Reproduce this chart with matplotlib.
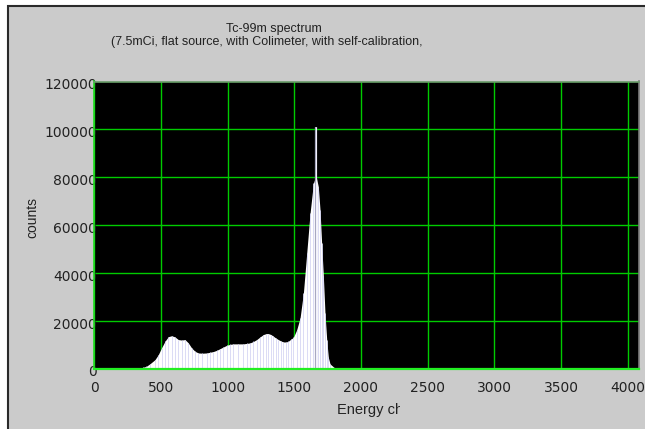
import matplotlib
matplotlib.use("Agg")
import matplotlib.pyplot as plt
import matplotlib.transforms as mtrans
from matplotlib.patches import Rectangle
from matplotlib.transforms import Bbox

# ---- data ----
channels = [340, 365, 390, 418, 455, 480, 505, 530, 555, 580, 605, 630, 655, 680,
            705, 730, 755, 780, 810, 843, 868, 893, 918, 943, 968, 993, 1018, 1043,
            1080, 1118, 1143, 1168, 1193, 1218, 1243, 1268, 1290, 1305, 1325, 1343,
            1360, 1380, 1400, 1418, 1440, 1455, 1475, 1493, 1518, 1543, 1568, 1593,
            1618, 1643, 1662, 1680, 1693, 1705, 1718, 1730, 1743, 1755, 1768, 1793,
            1810]
counts = [200, 500, 900, 2000, 3700, 5800, 8700, 11400, 13300, 13700, 13200, 12100,
          11900, 12100, 10700, 8600, 7200, 6500, 6400, 6500, 6800, 7100, 7600, 8300,
          9000, 9700, 10100, 10300, 10300, 10300, 10500, 10700, 11300, 12100, 13200,
          14200, 14600, 14600, 14200, 13500, 12800, 12100, 11500, 11100, 11100, 11400,
          12300, 13000, 16200, 21100, 31500, 48200, 64900, 77400, 80800, 76000, 66200,
          52400, 38500, 23200, 12100, 4700, 1900, 700, 0]
spike_ch = [1660]
spike_counts = [101000]

x_ticks = [0, 500, 1000, 1500, 2000, 2500, 3000, 3500, 4000]
y_ticks = [0, 20000, 40000, 60000, 80000, 100000, 120000]
title_line1 = "Tc-99m spectrum"
title_line2 = "(7.5mCi, flat source, with Colimeter, with self-calibration,"
x_label = "Energy ch"
y_label = "counts"

W, H = 645, 429
fig = plt.figure(figsize=(W / 100, H / 100), dpi=100)
fig.patch.set_facecolor("white")

# gray panel with dark frame (top and left edges visible)
fig.patches.append(Rectangle((7.5 / W, -0.02), 1.05 - 7.5 / W, 1.02 - 6.5 / H,
                             transform=fig.transFigure, facecolor="#cbcbcb",
                             edgecolor="#2a2a2a", linewidth=1.5, zorder=-5))

left, right = 94.3 / W, 639 / W
top, bottom = 1 - 81.5 / H, 1 - 368.5 / H
ax = fig.add_axes([left, bottom, right - left, top - bottom])
ax.set_zorder(2)
ax.set_facecolor("black")
ax.set_xlim(0, 4085)
ax.set_ylim(0, 120000)

ax.set_axisbelow(True)
ax.grid(True, color="#00cc00", linewidth=1.0)

ax.fill_between(channels, counts, 0, color="white", linewidth=0, zorder=3)
ax.vlines(channels, 0, counts, color="#d6d6f4", linewidth=0.6, zorder=3.1)
ax.vlines(spike_ch, 0, spike_counts, color="#a8a8c0", linewidth=1.6, zorder=3.2)
ax.vlines(spike_ch, 0, spike_counts, color="#f4f4ff", linewidth=0.7, zorder=3.3)

ax.set_xticks(x_ticks)
ax.set_yticks(y_ticks)
ax.set_xticklabels([str(v) for v in x_ticks])
ax.set_yticklabels([str(v) for v in y_ticks])
ax.tick_params(axis="x", length=0, pad=9, labelsize=10, labelcolor="#222222")
ax.tick_params(axis="y", length=0, pad=-2, labelsize=10, labelcolor="#222222")
off = mtrans.ScaledTranslation(0, -2.5 / 100, fig.dpi_scale_trans)
for lab in ax.get_yticklabels():
    lab.set_transform(lab.get_transform() + off)

ax.spines["bottom"].set_color("#22ee22")
ax.spines["bottom"].set_linewidth(1.6)
ax.spines["left"].set_color("#22dd22")
ax.spines["left"].set_linewidth(1.2)
ax.spines["top"].set_color("#6a9a6a")
ax.spines["top"].set_linewidth(1.2)
ax.spines["right"].set_color("#7a7a7a")
ax.spines["right"].set_linewidth(1.2)
for s in ax.spines.values():
    s.set_zorder(4)

fig.text(273.5 / W, 1 - 29 / H, title_line1, ha="center", va="center",
         fontsize=9, family=["Liberation Sans", "DejaVu Sans"], color="#222222")
fig.text(266.5 / W, 1 - 42.5 / H, title_line2, ha="center", va="center",
         fontsize=9, family=["Liberation Sans", "DejaVu Sans"], color="#222222")

xl = fig.text(337 / W, 1 - 410 / H, x_label, ha="left", va="center",
              fontsize=10.5, family=["Liberation Sans", "DejaVu Sans"], color="#222222")
xl.set_clip_on(True)
xl.set_clip_box(Bbox.from_extents(0, 0, 400, H))

fig.text(32 / W, 1 - 217 / H, y_label, ha="center", va="center", rotation=90,
         fontsize=10, family=["Liberation Sans", "DejaVu Sans"], color="#222222")

fig.savefig("out.png", dpi=100, facecolor=fig.get_facecolor())
